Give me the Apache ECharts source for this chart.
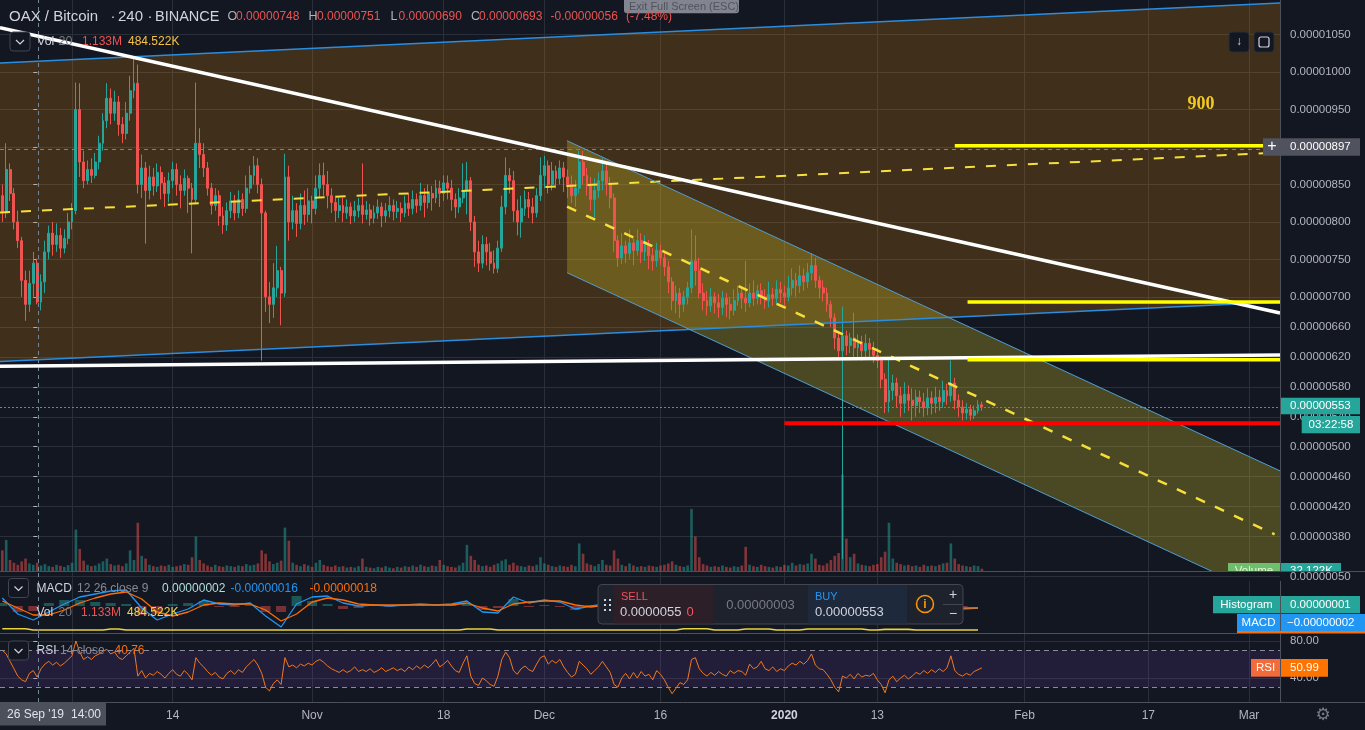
<!DOCTYPE html>
<html>
<head>
<meta charset="utf-8">
<title>OAX / Bitcoin 240</title>
<script src="https://cdn.jsdelivr.net/npm/echarts@6/dist/echarts.min.js"></script>
<style>
  html, body { margin: 0; padding: 0; background: #131722; }
  #chart { width: 1365px; height: 730px; }
</style>
</head>
<body>
<div id="chart"></div>
<script>
// prices in satoshi (1e-8 BTC), time in days from 26 Sep 2019 00:00
var barStartDay = -4;
var barStepDay = 0.5;

// [open, close, low, high], one candle per 12h
var candles = [
  [835,812,800,850],[812,870,805,905],[870,838,828,878],[838,800,790,845],[800,775,765,815],
  [775,722,700,780],[722,690,668,735],[690,718,680,735],[718,745,700,760],[745,693,690,751],
  [693,720,682,730],[720,760,705,775],[760,785,750,795],[785,770,755,800],[770,782,760,798],
  [782,765,752,792],[765,778,758,790],[778,800,770,812],[800,815,790,825],[815,950,810,986],
  [950,880,860,985],[880,855,845,895],[855,870,850,882],[870,862,852,885],[862,880,858,892],
  [880,905,870,915],[905,935,895,945],[935,965,925,985],[965,945,930,978],[945,960,935,975],
  [960,930,915,968],[930,918,905,940],[918,945,910,960],[945,975,935,995],[975,985,965,1018],
  [985,850,838,1010],[850,872,832,890],[872,842,771,880],[842,860,830,875],[860,848,835,872],
  [848,866,840,878],[866,852,830,874],[852,838,820,860],[838,855,826,866],[855,870,845,880],
  [870,850,835,878],[850,842,818,862],[842,858,835,870],[858,845,812,862],[845,830,758,852],
  [830,905,825,986],[905,890,872,925],[890,872,860,905],[872,845,835,880],[845,822,810,852],
  [822,835,815,845],[835,808,795,842],[808,796,784,820],[796,815,788,826],[815,828,805,840],
  [828,812,802,836],[812,830,805,842],[830,818,808,838],[818,845,812,862],[845,862,838,875],
  [862,875,850,888],[875,850,838,885],[850,812,615,858],[812,700,680,815],[700,690,665,720],
  [690,712,672,745],[712,735,700,768],[735,705,662,740],[705,860,700,891],[860,800,775,875],
  [800,815,790,835],[815,798,780,825],[798,822,790,838],[822,810,796,842],[810,828,800,845],
  [828,818,798,835],[818,845,810,862],[845,862,832,878],[862,850,835,879],[850,835,818,868],
  [835,826,812,845],[826,815,800,835],[815,822,805,832],[822,812,800,832],[812,820,804,830],
  [820,808,797,826],[808,815,800,828],[815,822,806,832],[822,810,798,878],[810,816,803,828],
  [816,805,795,824],[805,812,798,822],[812,820,804,830],[820,808,793,826],[808,815,799,825],
  [815,822,806,834],[822,814,802,830],[814,818,805,828],[818,812,800,826],[812,825,806,835],
  [825,818,808,838],[818,830,810,842],[830,822,812,838],[822,835,815,852],[835,826,806,845],
  [826,838,818,850],[838,832,815,848],[832,845,825,856],[845,838,820,855],[838,852,828,862],
  [852,845,830,862],[845,830,815,856],[830,820,805,838],[820,832,812,845],[832,842,825,878],
  [842,855,810,880],[855,800,788,860],[800,760,740,808],[760,745,733,775],[745,770,738,782],
  [770,760,742,780],[760,745,735,772],[745,738,731,762],[738,765,732,775],[765,820,760,835],
  [820,862,810,886],[862,855,838,872],[855,815,800,868],[815,800,782,830],[800,818,779,835],
  [818,830,808,842],[830,820,805,840],[820,812,798,832],[812,835,806,845],[835,862,828,886],
  [862,875,845,888],[875,850,838,882],[850,868,842,880],[868,858,845,875],[858,872,850,882],
  [872,860,840,880],[860,850,832,870],[850,835,825,862],[835,845,820,856],[845,880,838,895],
  [880,862,850,895],[862,848,835,872],[848,830,815,860],[830,842,806,858],[842,855,832,866],
  [855,868,842,885],[868,850,835,880],[850,832,818,860],[832,775,760,838],[775,752,740,782],
  [752,768,744,785],[768,758,745,775],[758,772,750,790],[772,762,742,778],[762,775,755,790],
  [775,760,745,785],[760,770,748,782],[770,755,737,776],[755,748,735,765],[748,762,740,772],
  [762,752,742,770],[752,740,728,760],[740,720,705,748],[720,695,682,726],[695,705,678,715],
  [705,690,672,712],[690,700,680,708],[700,712,690,720],[712,748,705,790],[748,735,715,782],
  [735,705,698,752],[705,695,682,718],[695,688,675,708],[688,700,680,712],[700,692,678,706],
  [692,686,672,704],[686,698,676,708],[698,690,673,705],[690,682,670,700],[682,695,675,710],
  [695,705,688,715],[705,698,684,712],[698,692,680,748],[692,705,686,718],[705,698,688,722],
  [698,708,690,716],[708,700,690,718],[700,695,684,710],[695,703,686,720],[703,698,688,712],
  [698,710,690,722],[710,705,692,720],[705,700,688,715],[700,712,694,728],[712,722,702,738],
  [722,715,700,732],[715,728,705,742],[728,720,708,738],[720,732,712,745],[732,742,722,758],
  [742,722,712,752],[722,712,698,728],[712,705,694,722],[705,690,680,712],[690,672,660,695],
  [672,645,630,678],[645,628,615,652],[628,648,350,687],[648,635,622,655],[635,645,625,652],
  [645,632,618,679],[632,640,620,650],[640,628,615,648],[628,638,618,650],[638,630,618,645],
  [630,622,612,640],[622,615,605,632],[615,590,578,620],[590,560,545,598],[560,575,546,618],
  [575,585,562,596],[585,568,552,592],[568,558,540,580],[558,570,545,586],[570,562,548,582],
  [562,555,535,578],[555,566,540,576],[566,560,545,575],[560,552,540,572],[552,565,542,578],
  [565,558,543,574],[558,566,545,580],[566,560,548,576],[560,575,552,588],[575,568,556,584],
  [568,585,560,615],[585,562,550,592],[562,553,540,570],[553,545,535,562],[545,550,536,558],
  [550,542,535,556],[542,548,537,555],[548,556,544,562],[556,553,548,560]
];

// volume per candle, thousands
var volumes = [
  300,450,160,120,90,140,180,110,90,120,
  80,100,70,60,90,75,60,85,120,600,
  320,150,90,70,80,110,140,180,100,80,
  90,70,110,300,160,700,220,180,90,70,
  60,80,70,90,60,70,80,100,90,200,
  500,160,110,80,60,90,70,60,80,70,
  60,80,70,100,80,90,110,300,250,140,
  100,120,150,630,440,120,90,70,100,80,
  60,120,160,90,70,60,80,60,70,50,
  60,50,70,180,60,50,40,60,50,70,
  50,40,60,50,70,60,80,60,90,70,
  60,80,70,160,90,70,60,50,80,120,
  380,220,160,90,70,80,60,90,110,150,
  170,90,120,80,70,60,80,70,90,200,
  110,90,70,60,80,70,60,90,70,400,
  250,110,90,70,100,160,90,80,300,180,
  90,70,110,80,60,70,60,80,70,60,
  80,90,110,140,90,70,60,80,900,500,
  200,100,80,60,70,60,80,60,50,70,
  60,80,350,90,70,60,90,70,60,50,
  70,60,90,80,120,80,100,90,110,250,
  180,90,80,110,160,220,260,1400,470,200,
  250,110,90,80,70,90,100,200,280,700,
  180,120,100,80,90,70,80,60,90,70,
  80,70,90,110,120,400,180,100,80,70,
  60,80,70,32
];

var rsiValues = [
  70,66,58,50,42,38,36,45,48,41,
  50,55,58,54,57,53,56,60,64,80,
  68,60,63,60,64,66,69,71,66,68,
  62,60,64,68,72,42,48,40,45,43,
  47,44,40,45,49,44,42,48,44,38,
  62,56,52,47,43,46,41,39,45,48,
  44,49,46,52,56,60,54,45,30,26,
  34,38,33,62,52,54,51,55,53,56,
  54,58,60,57,53,50,48,46,49,46,
  48,52,47,49,47,50,46,48,51,47,
  49,51,48,50,47,52,49,53,50,54,
  51,55,60,52,55,59,53,48,46,56,
  64,42,34,32,40,37,33,31,42,60,
  68,62,48,44,50,53,49,47,55,62,
  64,55,59,56,60,52,46,41,44,58,
  54,50,44,48,52,58,52,46,33,30,
  40,45,39,46,40,47,42,44,38,48,
  44,38,30,23,29,35,33,38,60,62,
  50,45,42,46,43,47,44,42,48,45,
  48,47,43,55,50,52,58,50,48,52,
  47,50,48,53,56,54,58,55,59,66,
  54,50,49,44,38,30,25,42,40,44,
  39,45,41,43,42,45,38,33,24,38,
  42,36,40,43,39,42,46,44,48,45,
  49,46,50,47,51,64,48,44,42,45,
  43,47,49,51
];

// MACD pane, one value every 2 days
var slowStartDay = -4;
var slowStepDay = 2;
var macdLine = [
  8,-8,-14,-6,2,9,12,15,16,-2,
  -14,-8,-3,6,2,1,3,-10,-21,2,
  9,10,3,0,1,0,1,2,1,2,
  5,-6,-7,9,3,6,4,-3,0,2,
  -8,-6,-5,-9,-10,-2,-5,-6,-4,-3,
  -2,0,2,-1,-12,-9,-7,-14,-10,-6,
  -4,-1,-3,-2
];
var signalLine = [
  5,-2,-9,-9,-4,3,8,12,14,7,
  -6,-10,-6,1,3,2,2,-4,-15,-8,
  4,8,6,2,1,1,1,1,1,1,
  3,-2,-5,2,4,5,5,1,-1,1,
  -4,-6,-5,-7,-9,-5,-4,-5,-5,-4,
  -3,-1,1,0,-7,-9,-8,-11,-11,-8,
  -5,-2,-2,-2
];
var macdHist = [
  3,-6,-5,3,6,6,4,3,2,-9,
  -8,2,3,5,-1,-1,1,-6,-6,10,
  5,2,-3,-2,0,-1,0,1,0,1,
  2,-4,-2,7,-1,1,-1,-4,1,1,
  -4,0,0,-2,-1,3,-1,-1,1,1,
  1,1,1,-1,-5,0,1,-3,1,2,
  1,1,-1,0
];
var volumeMA = [
  700,700,480,480,480,480,480,650,480,480,
  480,480,480,480,480,480,480,480,480,480,
  480,480,480,480,480,480,480,480,480,480,
  650,650,480,480,480,480,480,480,480,480,
  480,480,480,480,700,700,480,480,650,650,
  480,480,650,650,650,650,480,600,600,480,
  480,480,480,484
];

var timeTicks = [5, 18, 36, 53, 66, 81, 97, 109, 128, 144, 157];
var timeLabels = ['Oct', '14', 'Nov', '18', 'Dec', '16', '2020', '13', 'Feb', '17', 'Mar'];
var priceTicks = [1050, 1000, 950, 900, 850, 800, 750, 700, 660, 620, 580, 540, 500, 460, 420, 380];
var rsiTicks = [80, 40];

// drawings, end points as [day, price]
var brownUpper = [[-4.3, 1012.0], [161, 1092.1]];
var brownMid = [[-4.3, 812.5], [161, 892.6]];
var brownLower = [[-4.3, 613.7], [161, 693.1]];
var oliveUpper = [[68.93, 908.3], [161, 467.8]];
var oliveMid = [[68.93, 820.3], [160.3, 383.1]];
var oliveLower = [[68.93, 732.2], [161, 291.7]];
var whiteFalling = [[-4.3, 1059.0], [161, 678.5]];
var whiteFlat = [[-4.3, 607.3], [161, 622.4]];
var yellowTop = [[119.0, 901.7], [161, 901.7]];
var yellowMid = [[120.65, 693.1], [161, 693.1]];
var yellowLow = [[120.65, 616.1], [161, 616.1]];
var redSupport = [[97.0, 531.3], [161, 531.3]];
var lastPrice = 553;
var crossDay = 0.583;
var crossPrice = 897;

(function () {
  var up = '#26a69a';
  var down = '#ef5350';
  var grid = '#2a2e39';
  var sep = '#4c505b';
  var axisText = '#b2b5be';
  var bg = '#131722';
  var font = "'Liberation Sans', Arial, sans-serif";
  var xMin = -4.3, xMax = 161;

  var chart = echarts.init(document.getElementById('chart'), null, { renderer: 'canvas' });

  function day(i, start, step) { return start + i * step; }
  var candleData = candles.map(function (c, i) { return [day(i, barStartDay, barStepDay)].concat(c); });
  var volumeData = volumes.map(function (v, i) {
    var c = candles[i];
    return {
      value: [day(i, barStartDay, barStepDay), v],
      itemStyle: { color: c[1] >= c[0] ? 'rgba(38,166,154,0.5)' : 'rgba(239,83,80,0.5)' }
    };
  });
  var rsiData = rsiValues.map(function (v, i) { return [day(i, barStartDay, barStepDay), v]; });
  function slow(arr) { return arr.map(function (v, i) { return [day(i, slowStartDay, slowStepDay), v]; }); }
  var histData = macdHist.map(function (v, i) {
    return {
      value: [day(i, slowStartDay, slowStepDay), v],
      itemStyle: { color: v >= 0 ? 'rgba(38,166,154,0.45)' : 'rgba(239,83,80,0.45)' }
    };
  });

  function timeAxis(gridIndex, showLabels) {
    return {
      type: 'value', gridIndex: gridIndex, min: xMin, max: xMax,
      axisLine: { show: false },
      axisTick: { show: false, customValues: timeTicks },
      axisLabel: {
        show: showLabels, customValues: timeTicks, color: axisText, fontSize: 12, fontFamily: font, margin: 8,
        formatter: function (v) {
          var s = timeLabels[timeTicks.indexOf(v)] || '';
          return s === '2020' ? '{b|2020}' : s;
        },
        rich: { b: { fontWeight: 'bold', color: '#d1d4dc', fontSize: 12, fontFamily: font } }
      },
      splitLine: { show: gridIndex !== 1, lineStyle: { color: grid, width: 1 } }
    };
  }

  function fill(upper, lower, color) {
    return {
      type: 'custom', xAxisIndex: 0, yAxisIndex: 0, z: 1, silent: true, clip: true,
      data: [[upper[0][0], upper[0][1]]],
      renderItem: function (params, api) {
        var pts = [upper[0], upper[1], lower[1], lower[0]].map(function (p) { return api.coord(p); });
        return { type: 'polygon', shape: { points: pts }, style: { fill: color } };
      }
    };
  }

  function trend(points, color, width, type) {
    return {
      type: 'line', xAxisIndex: 0, yAxisIndex: 0, z: 5, silent: true, clip: true,
      data: points, symbol: 'none',
      lineStyle: { color: color, width: width, type: type || 'solid' }
    };
  }

  var crossStyle = { color: '#758696', width: 1, type: [4, 4] };
  function crossLine() {
    return { silent: true, symbol: ['none', 'none'], label: { show: false }, lineStyle: crossStyle, data: [{ xAxis: crossDay }] };
  }

  function txt(x, y, s, color, size, extra) {
    var st = { text: s, fill: color, font: (size || 12) + 'px ' + font, verticalAlign: 'middle', align: 'left' };
    if (extra) { for (var k in extra) st[k] = extra[k]; }
    return { type: 'text', x: x, y: y, z: 100, style: st };
  }
  function box(x, y, w, h, color, extra) {
    var st = { fill: color };
    if (extra) { for (var k in extra) st[k] = extra[k]; }
    return { type: 'rect', z: 99, shape: { x: x, y: y, width: w, height: h, r: (extra && extra.r) || 0 }, style: st };
  }
  function hline(x1, x2, y, color, w) {
    return { type: 'line', z: 101, shape: { x1: x1, y1: y, x2: x2, y2: y }, style: { stroke: color, lineWidth: w || 1 } };
  }
  function vline(x, y1, y2, color, w) {
    return { type: 'line', z: 98, shape: { x1: x, y1: y1, x2: x, y2: y2 }, style: { stroke: color, lineWidth: w || 1 } };
  }
  function chevron(x, y) {
    return [
      box(x, y, 20, 19, bg, { stroke: '#434651', lineWidth: 1, r: 3 }),
      { type: 'polyline', z: 100, shape: { points: [[x + 6, y + 8], [x + 10, y + 12], [x + 14, y + 8]] }, style: { stroke: '#d1d4dc', lineWidth: 1.2, fill: null } }
    ];
  }

  var g = [];
  // pane separators and price scale border
  g.push(hline(0, 1365, 571.5, sep), hline(0, 1365, 633.5, sep), hline(0, 1365, 702.5, sep));
  g.push(vline(1280.5, 0, 702, sep));

  // header legend
  g.push(txt(9, 17, 'OAX / Bitcoin', '#d1d4dc', 15), txt(110.5, 17, '·', '#d1d4dc', 15), txt(118, 17, '240', '#d1d4dc', 15),
    txt(147.5, 17, '·', '#d1d4dc', 15), txt(155, 17, 'BINANCE', '#d1d4dc', 14.5));
  g.push(txt(227.5, 17, 'O', '#b2b5be', 12.5), txt(236, 17, '0.00000748', down, 12),
    txt(308.5, 17, 'H', '#b2b5be', 12.5), txt(317, 17, '0.00000751', down, 12),
    txt(390.5, 17, 'L', '#b2b5be', 12.5), txt(398.5, 17, '0.00000690', down, 12),
    txt(471, 17, 'C', '#b2b5be', 12.5), txt(479, 17, '0.00000693', down, 12),
    txt(550.5, 17, '-0.00000056', down, 12), txt(626, 17, '(-7.48%)', down, 12));
  g = g.concat(chevron(10, 32));
  g.push(txt(37, 42, 'Vol', '#d1d4dc', 12.5), txt(58.5, 42, '20', '#787b86', 12.5),
    txt(82, 42, '1.133M', down, 12), txt(128, 42, '484.522K', '#f6c244', 12));
  g.push(box(624, -3, 115, 16.3, 'rgba(178,181,190,0.7)', { r: 3 }), txt(629, 6.5, 'Exit Full Screen (ESC)', '#50535e', 11));

  // top right buttons
  g.push(box(1229, 32, 20, 20, bg, { stroke: '#2a2e39', lineWidth: 1, r: 3 }), txt(1239, 42, '↓', '#d1d4dc', 12, { align: 'center' }));
  g.push(box(1254, 32, 20, 20, bg, { stroke: '#2a2e39', lineWidth: 1, r: 3 }),
    { type: 'rect', z: 100, shape: { x: 1259, y: 37, width: 10, height: 10, r: 2 }, style: { fill: null, stroke: '#d1d4dc', lineWidth: 1.2 } });

  // drawing label
  g.push(txt(1201, 104, '900', '#f2c822', 18, { align: 'center', font: 'bold 18px "Liberation Serif", serif' }));

  // price scale labels
  g.push(box(1263, 138.3, 18, 17.4, '#50535e'), txt(1272, 147, '+', '#ffffff', 16, { align: 'center' }));
  g.push(box(1281, 138.3, 79, 17.4, '#50535e'), txt(1290, 147, '0.00000897', '#ffffff', 11.5));
  g.push(box(1281, 397.7, 79, 16.6, up), txt(1290, 406, '0.00000553', '#ffffff', 11.5));
  g.push(box(1301.7, 416, 58.3, 17.3, up), txt(1331, 424.8, '03:22:58', '#ffffff', 11.5, { align: 'center' }));
  g.push(box(1228, 563, 52, 17, '#6ebe6e'), txt(1254, 571, 'Volume', '#eaf6d8', 11.5, { align: 'center' }));
  g.push(box(1281, 563, 60, 17, up), txt(1290, 571, '32.122K', '#ffffff', 11.5));
  g.push({ type: 'rect', z: 100, shape: { x: 1226, y: 572, width: 139, height: 9 }, style: { fill: bg } });
  g.push(hline(1226, 1280, 576.5, grid));
  g.push(txt(1290, 577, '0.00000050', axisText, 11.5));
  g.push(box(1213, 596, 67, 17.3, up), txt(1246.5, 604.7, 'Histogram', '#ffffff', 11.5, { align: 'center' }));
  g.push(box(1281, 596, 79, 17.3, up), txt(1290, 604.7, '0.00000001', '#ffffff', 11.5));
  g.push(box(1237, 631, 128, 2, '#ff6d00'));
  g.push(box(1237, 614, 43, 17, '#2196f3'), txt(1258.5, 622.5, 'MACD', '#ffffff', 11.5, { align: 'center' }));
  g.push(box(1281, 614, 84, 17, '#2196f3'), txt(1287, 622.5, '\u22120.00000002', '#ffffff', 11.5));
  g.push(box(1251, 659, 29, 17.7, '#f26b3a'), txt(1265.5, 668, 'RSI', '#ffffff', 11.5, { align: 'center' }));
  g.push(box(1281, 659, 47, 17.7, '#ff7300'), txt(1290, 668, '50.99', '#ffffff', 11.5));

  // MACD / RSI legends
  g = g.concat(chevron(8.5, 578.5));
  g.push(txt(36.5, 589, 'MACD', '#d1d4dc', 12), txt(77, 589, '12 26 close 9', '#868993', 12),
    txt(162, 589, '0.00000002', '#b2dfdb', 12), txt(230.5, 589, '-0.00000016', '#2196f3', 12),
    txt(309.5, 589, '-0.00000018', '#ff6d00', 12));
  g.push(txt(36.5, 613, 'Vol', '#d1d4dc', 12), txt(58.5, 613, '20', '#787b86', 12),
    txt(81, 613, '1.133M', down, 12), txt(127, 613, '484.522K', '#f2d846', 12));
  g = g.concat(chevron(8.5, 641));
  g.push(txt(36.5, 651, 'RSI', '#d1d4dc', 12), txt(60, 651, '14 close', '#868993', 12),
    txt(114.5, 651, '40.76', '#ff6d00', 12));

  // trading panel
  g.push(box(598, 584.5, 365, 39.5, '#1e222d', { stroke: '#434651', lineWidth: 1, r: 4 }));
  g.push(box(614, 585, 99, 38.5, '#2c1f28'), box(808, 585, 99, 38.5, '#1e2a3c'));
  [614, 713, 808, 907, 943].forEach(function (x) { g.push(vline(x + 0.5, 585, 623.5, '#434651')); });
  g.push({ type: 'line', z: 100, shape: { x1: 943, y1: 604.5, x2: 962.5, y2: 604.5 }, style: { stroke: '#434651', lineWidth: 1 } });
  [[604, 599], [609, 599], [604, 604], [609, 604], [604, 609], [609, 609]].forEach(function (p) {
    g.push({ type: 'rect', z: 101, shape: { x: p[0], y: p[1], width: 2, height: 2 }, style: { fill: '#d1d4dc' } });
  });
  g.push(txt(621, 596.5, 'SELL', '#f7525f', 11), txt(620, 612.5, '0.0000055', '#d1d4dc', 13), txt(686.5, 612.5, '0', '#f7525f', 13));
  g.push(txt(760.5, 605, '0.00000003', '#787b86', 13, { align: 'center' }));
  g.push(txt(815, 596.5, 'BUY', '#2196f3', 11), txt(815, 612.5, '0.00000553', '#d1d4dc', 13));
  g.push({ type: 'circle', z: 100, shape: { cx: 925, cy: 604, r: 8.5 }, style: { fill: null, stroke: '#ff9800', lineWidth: 1.5 } },
    txt(925, 605, 'i', '#ff9800', 12, { align: 'center', font: 'bold 12px ' + font }));
  g.push(txt(953, 595, '+', '#d1d4dc', 14, { align: 'center' }), txt(953, 614.5, '\u2212', '#d1d4dc', 14, { align: 'center' }));

  // time scale crosshair label and settings icon
  g.push(box(0, 703, 106, 22.5, '#4b505a'), txt(7, 714.3, "26 Sep '19", '#e0e3eb', 12), txt(71, 714.3, '14:00', '#e0e3eb', 12));
  g.push(txt(1323, 716, '\u2699', '#787b86', 17, { align: 'center', font: '17px "DejaVu Sans", sans-serif' }));

  var option = {
    backgroundColor: bg,
    animation: false,
    textStyle: { fontFamily: font },
    grid: [
      { left: 0, top: 0, width: 1280, height: 571 },
      { left: 0, top: 440, width: 1280, height: 131 },
      { left: 0, top: 572, width: 1280, height: 61 },
      { left: 0, top: 634, width: 1280, height: 68 }
    ],
    xAxis: [timeAxis(0, false), timeAxis(1, false), timeAxis(2, false), timeAxis(3, true)],
    yAxis: [
      {
        type: 'value', gridIndex: 0, position: 'right', min: 334.2, max: 1096.1,
        axisLine: { show: false },
        axisTick: { show: true, length: 4, customValues: priceTicks, lineStyle: { color: axisText } },
        axisLabel: {
          customValues: priceTicks, color: axisText, fontSize: 11.5, fontFamily: font, margin: 10,
          formatter: function (v) { return (v / 1e8).toFixed(8); }
        },
        splitLine: { show: true, lineStyle: { color: grid } }
      },
      { type: 'value', gridIndex: 1, min: 0, max: 1900, show: false },
      {
        type: 'value', gridIndex: 2, position: 'right', min: -27, max: 34,
        axisLine: { show: false }, axisTick: { show: false, customValues: [30] },
        axisLabel: { show: false, customValues: [30] },
        splitLine: { show: true, lineStyle: { color: grid } }
      },
      { type: 'value', gridIndex: 2, min: 0, max: 10000, show: false },
      {
        type: 'value', gridIndex: 3, position: 'right', min: 14.05, max: 87.57,
        axisLine: { show: false },
        axisTick: { show: true, length: 4, customValues: rsiTicks, lineStyle: { color: axisText } },
        axisLabel: {
          customValues: rsiTicks, color: axisText, fontSize: 11.5, fontFamily: font, margin: 10,
          formatter: function (v) { return v.toFixed(2); }
        },
        splitLine: { show: true, lineStyle: { color: grid } }
      }
    ],
    series: [
      fill(brownUpper, brownLower, 'rgba(255,152,0,0.19)'),
      fill(oliveUpper, oliveLower, 'rgba(230,210,40,0.27)'),
      {
        type: 'bar', xAxisIndex: 1, yAxisIndex: 1, z: 2, silent: true,
        barWidth: 2.6, data: volumeData
      },
      {
        type: 'candlestick', xAxisIndex: 0, yAxisIndex: 0, z: 3, silent: true,
        data: candleData, encode: { x: 0, y: [1, 2, 3, 4] }, barWidth: 2.4,
        itemStyle: { color: up, color0: down, borderColor: up, borderColor0: down, borderWidth: 1 }
      },
      trend(brownUpper, '#2b8de0', 1.5),
      trend(brownLower, '#2b8de0', 1.5),
      trend(brownMid, '#f7df3a', 2, [10, 11]),
      trend(oliveUpper, '#4f9ed4', 1),
      trend(oliveLower, '#4f9ed4', 1),
      trend(oliveMid, '#f7df3a', 2.5, [10, 11]),
      trend(whiteFalling, '#ffffff', 3.5),
      trend(whiteFlat, '#ffffff', 3.5),
      trend(yellowTop, '#ffff00', 3.5),
      trend(yellowMid, '#ffff00', 3.5),
      trend(yellowLow, '#ffff00', 3.5),
      trend(redSupport, '#ff0000', 4),
      {
        type: 'line', xAxisIndex: 0, yAxisIndex: 0, z: 6, silent: true, data: [],
        markLine: {
          silent: true, symbol: ['none', 'none'], label: { show: false },
          data: [
            { xAxis: crossDay, lineStyle: crossStyle },
            { yAxis: crossPrice, lineStyle: crossStyle },
            { yAxis: lastPrice, lineStyle: { color: up, width: 1, type: [2, 2] } }
          ]
        }
      },
      {
        type: 'bar', xAxisIndex: 2, yAxisIndex: 2, silent: true, barWidth: 10, data: histData
      },
      {
        type: 'line', xAxisIndex: 2, yAxisIndex: 2, silent: true, symbol: 'none',
        data: slow(macdLine), lineStyle: { color: '#2196f3', width: 1.3 }, markLine: crossLine()
      },
      {
        type: 'line', xAxisIndex: 2, yAxisIndex: 2, silent: true, symbol: 'none',
        data: slow(signalLine), lineStyle: { color: '#ff6d00', width: 1.3 }
      },
      {
        type: 'line', xAxisIndex: 2, yAxisIndex: 3, silent: true, symbol: 'none', step: 'middle',
        data: slow(volumeMA), lineStyle: { color: '#e8d43c', width: 1.6 }
      },
      {
        type: 'line', xAxisIndex: 3, yAxisIndex: 4, silent: true, symbol: 'none',
        data: rsiData, lineStyle: { color: '#f07a1e', width: 1 },
        markArea: { silent: true, itemStyle: { color: 'rgba(130,70,200,0.14)' }, data: [[{ yAxis: 70 }, { yAxis: 30 }]] },
        markLine: {
          silent: true, symbol: ['none', 'none'], label: { show: false },
          data: [
            { yAxis: 70, lineStyle: { color: '#8a8d96', width: 1, type: [5, 4] } },
            { yAxis: 30, lineStyle: { color: '#8a8d96', width: 1, type: [5, 4] } },
            { xAxis: crossDay, lineStyle: crossStyle }
          ]
        }
      }
    ],
    graphic: { elements: g }
  };

  chart.setOption(option);
  window.addEventListener('resize', function () { chart.resize(); });
})();
</script>
</body>
</html>
